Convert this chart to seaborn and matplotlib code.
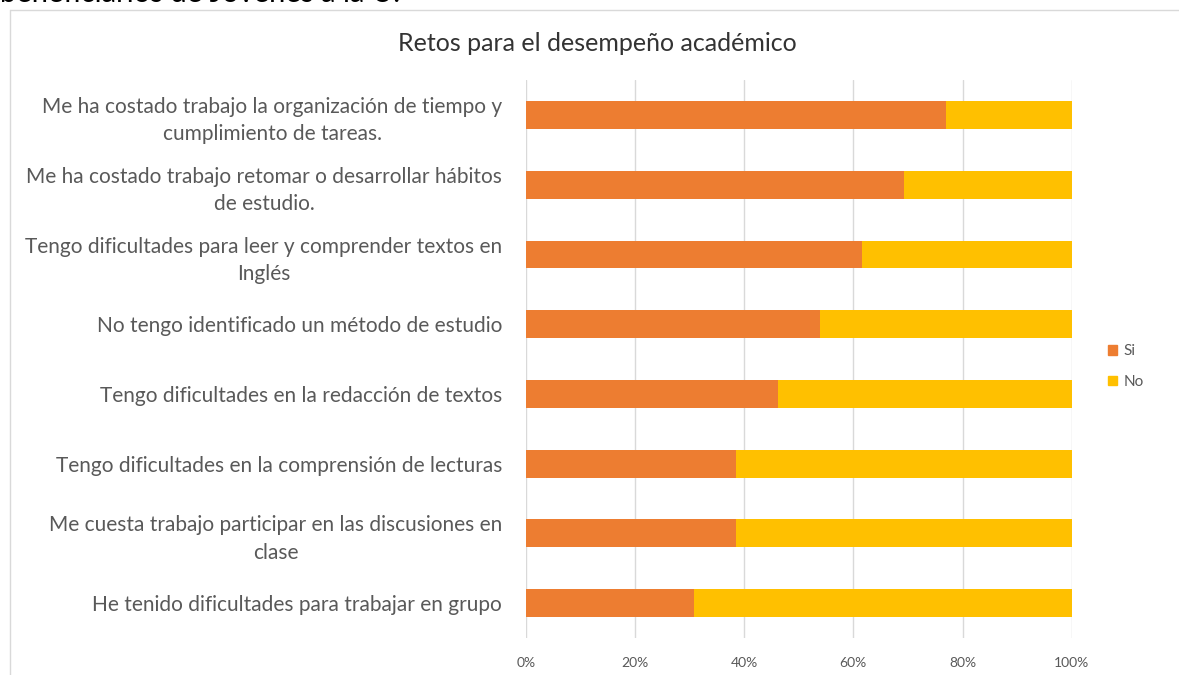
import matplotlib
matplotlib.use('Agg')
import matplotlib.pyplot as plt
from matplotlib.patches import Patch
import seaborn as sns
import pandas as pd

categories = [
    'Me ha costado trabajo la organización de tiempo y\ncumplimiento de tareas.',
    'Me ha costado trabajo retomar o desarrollar hábitos\nde estudio.',
    'Tengo dificultades para leer y comprender textos en\nInglés',
    'No tengo identificado un método de estudio',
    'Tengo dificultades en la redacción de textos',
    'Tengo dificultades en la comprensión de lecturas',
    'Me cuesta trabajo participar en las discusiones en\nclase',
    'He tenido dificultades para trabajar en grupo',
]
si_pct = [76.9, 69.2, 61.5, 53.8, 46.2, 38.5, 38.5, 30.8]
no_pct = [23.1, 30.8, 38.5, 46.2, 53.8, 61.5, 61.5, 69.2]
ticks = [0, 20, 40, 60, 80, 100]
tick_labels = ['0%', '20%', '40%', '60%', '80%', '100%']

df = pd.DataFrame({'cat': categories, 'si': si_pct, 'no': no_pct})
df['total'] = df['si'] + df['no']

sns.set_style('white')
plt.rcParams['font.family'] = ['Lato', 'DejaVu Sans']

fig = plt.figure(figsize=(11.79, 6.75), dpi=100)
ax = fig.add_axes([0.446, 0.055, 0.463, 0.826])

c_si = '#ED7D31'
c_no = '#FFC000'
sns.barplot(data=df, y='cat', x='total', color=c_no, width=0.4, orient='h', ax=ax,
            saturation=1, linewidth=0)
sns.barplot(data=df, y='cat', x='si', color=c_si, width=0.4, orient='h', ax=ax,
            saturation=1, linewidth=0)

ax.set_xlim(0, 100)
ax.set_xticks(ticks)
ax.set_xticklabels(tick_labels, color='#595959', fontsize=10)
ax.set_xlabel('')
ax.set_ylabel('')
ax.grid(axis='x', color='#d9d9d9', linewidth=1)
ax.set_axisbelow(True)
for s in ax.spines.values():
    s.set_visible(False)
ax.tick_params(axis='y', length=0, pad=17, labelsize=15, labelcolor='#595959')
ax.tick_params(axis='x', length=0, pad=14)
for lab in ax.get_yticklabels():
    lab.set_multialignment('center')
    lab.set_linespacing(1.45)

fig.text(0.507, 0.935, 'Retos para el desempeño académico', ha='center', va='center',
         fontsize=18, color='#333333')

handles = [Patch(color=c_si, label='Si'), Patch(color=c_no, label='No')]
fig.legend(handles=handles, loc='center left', bbox_to_anchor=(0.928, 0.457), frameon=False,
           fontsize=11, labelcolor='#595959', handlelength=0.6, handleheight=0.6,
           handletextpad=0.4, labelspacing=1.1)

# chart border and clipped caption above
fig.add_artist(plt.Line2D([0.0085, 1.0], [0.985, 0.985], color='#d9d9d9', lw=1, transform=fig.transFigure))
fig.add_artist(plt.Line2D([0.0085, 0.0085], [0.0, 0.985], color='#d9d9d9', lw=1, transform=fig.transFigure))
fig.text(0.0, 1.009, 'beneficiarios de Jóvenes a la U.', ha='left', va='center', fontsize=21, color='black')

fig.savefig('out.png', dpi=100)
